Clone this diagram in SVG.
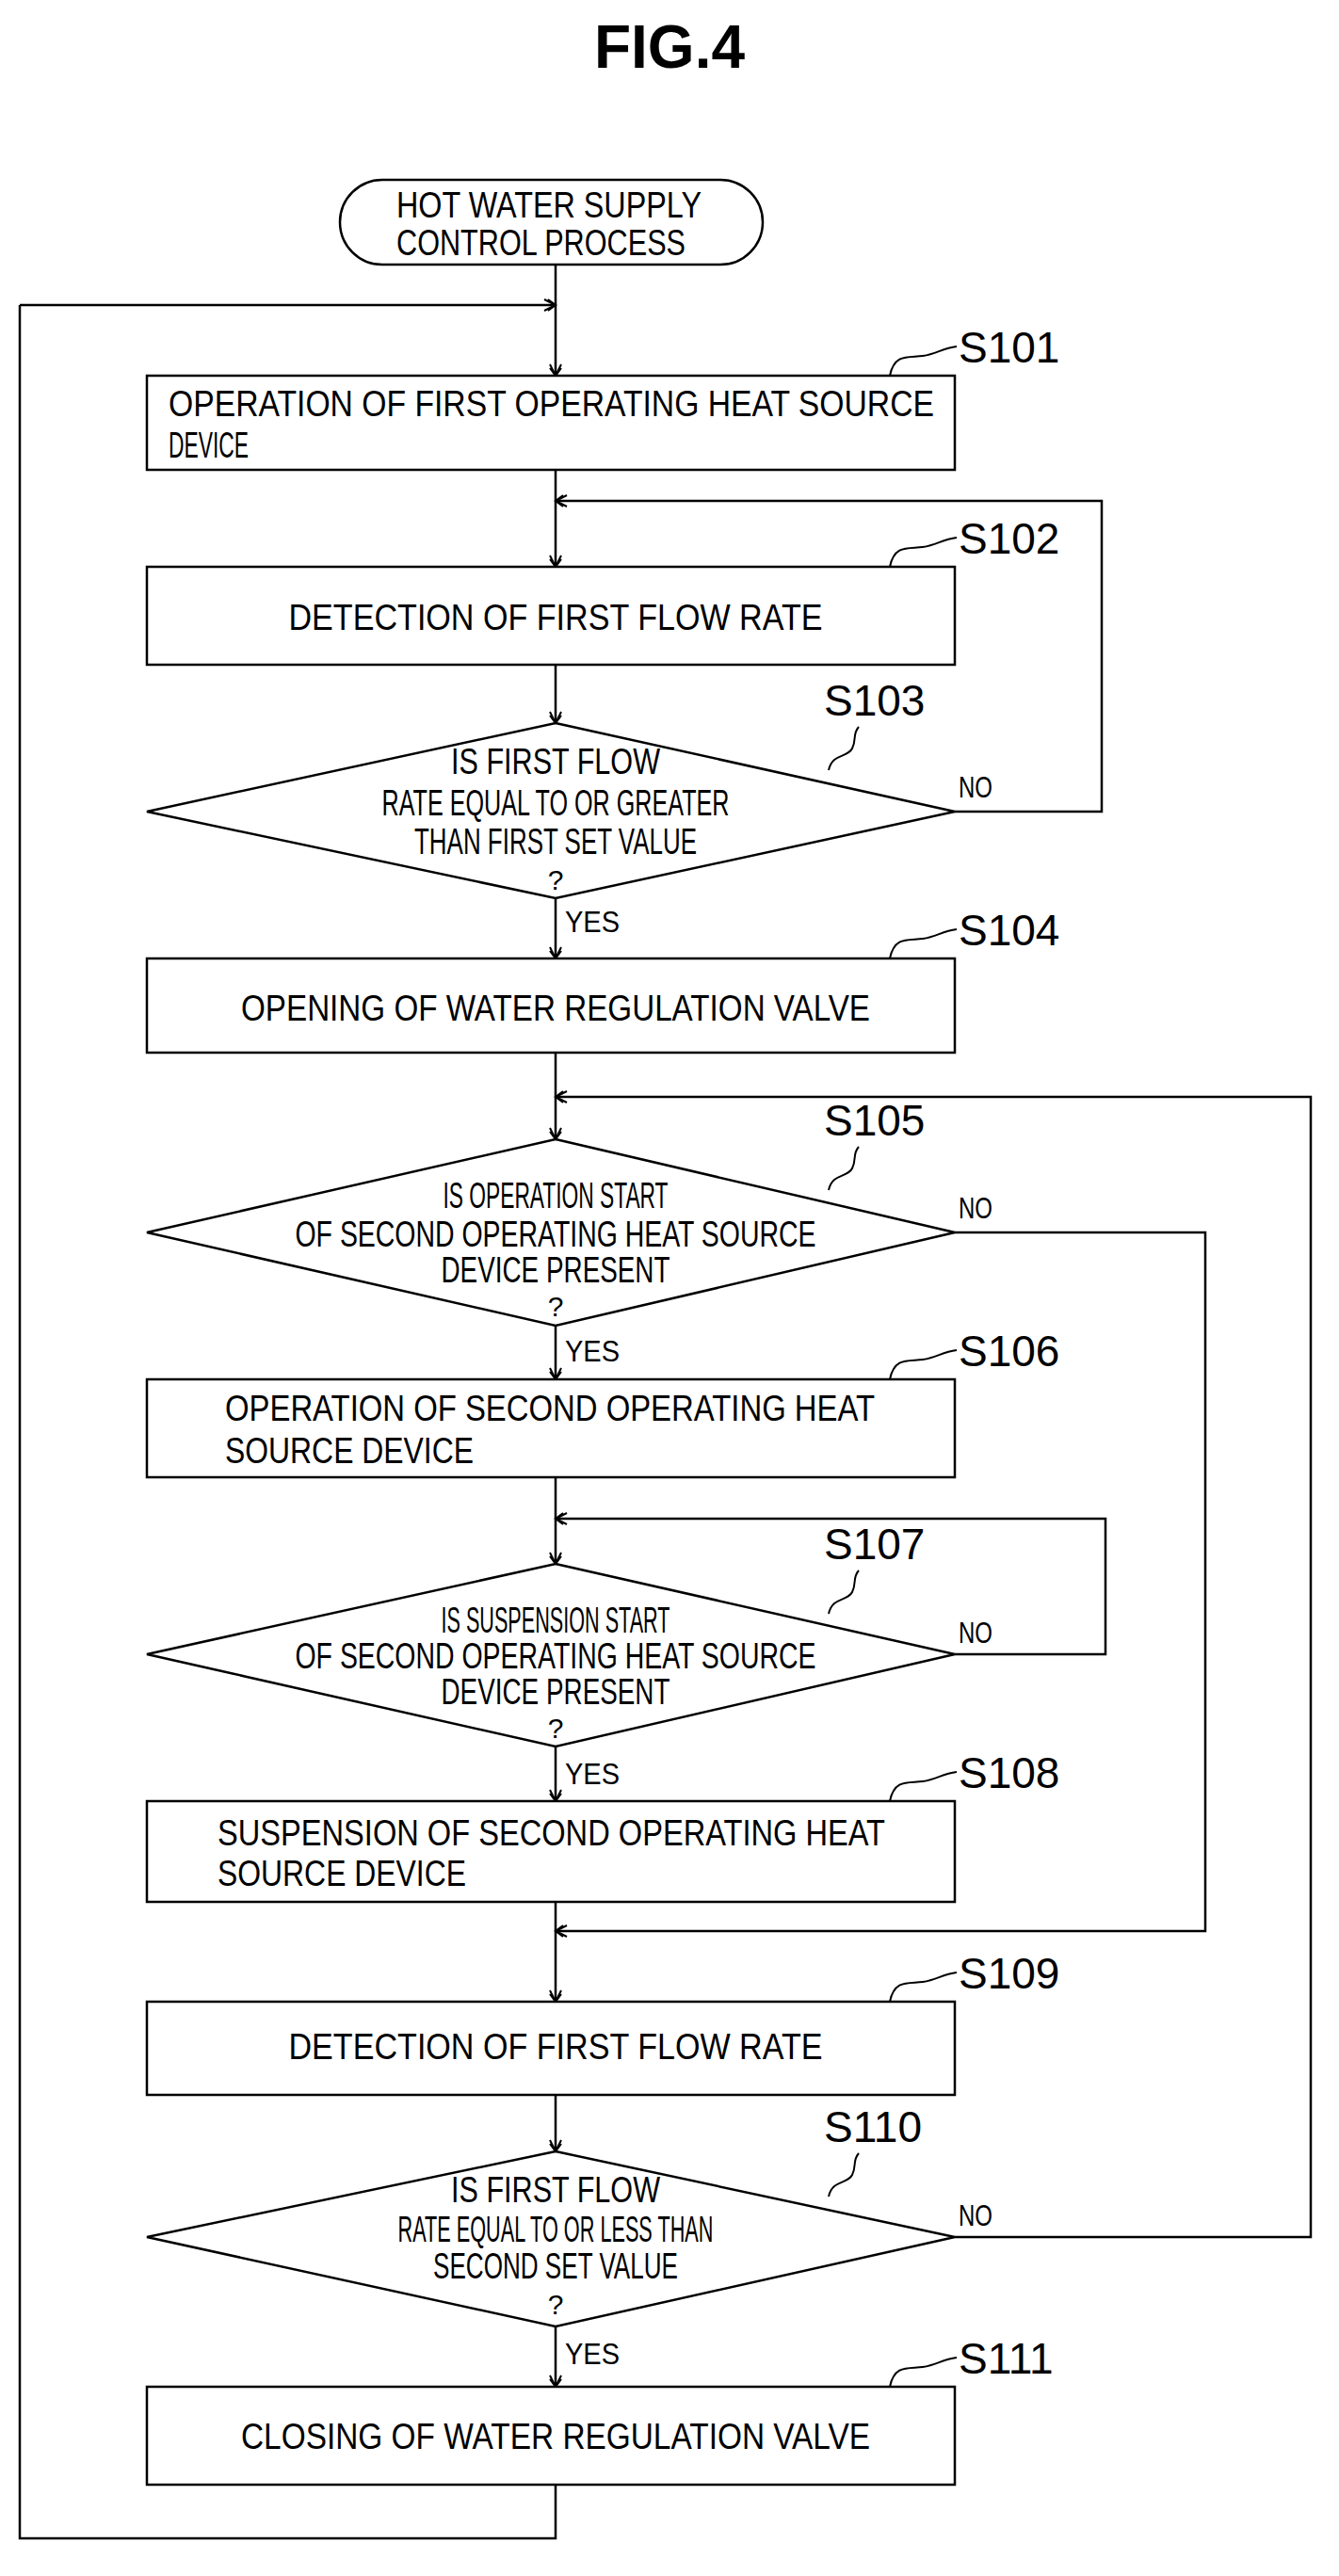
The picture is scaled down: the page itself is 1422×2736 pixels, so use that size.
<svg xmlns="http://www.w3.org/2000/svg" width="1422" height="2736" viewBox="0 0 1422 2736">
<style>
.n{fill:#fff;stroke:#000;stroke-width:2.5}
.t{font-family:"Liberation Sans",Arial,sans-serif;font-size:39px;fill:#000}
.q{font-family:"Liberation Sans",Arial,sans-serif;font-size:30px;fill:#000;text-anchor:middle}
.c{text-anchor:middle}
.lb{font-family:"Liberation Sans",Arial,sans-serif;font-size:46px;fill:#000}
.yn{font-family:"Liberation Sans",Arial,sans-serif;font-size:32px;fill:#000}
.e{fill:none;stroke:#000;stroke-width:2.5}
.s{fill:none;stroke:#000;stroke-width:2}
</style>
<defs>
<marker id="a" markerWidth="16" markerHeight="16" refX="14" refY="8" orient="auto" markerUnits="userSpaceOnUse">
<path d="M2,2 L14,8 L2,14 M6,2 L14,8 L6,14" fill="none" stroke="#000" stroke-width="2"/>
</marker>
</defs>
<text x="711" y="72" text-anchor="middle" style="font-family:'Liberation Sans',Arial,sans-serif;font-size:64px;font-weight:bold">FIG.4</text>

<g id="connectors">
<path class="e" d="M590,281 V399" marker-end="url(#a)"/>
<path class="e" d="M21,324 H590" marker-end="url(#a)"/>
<path class="e" d="M590,499 V602" marker-end="url(#a)"/>
<path class="e" d="M1014,862 H1170 V532 H590" marker-end="url(#a)"/>
<path class="e" d="M590,706 V768" marker-end="url(#a)"/>
<path class="e" d="M590,954 V1018" marker-end="url(#a)"/>
<path class="e" d="M590,1118 V1210" marker-end="url(#a)"/>
<path class="e" d="M1014,2376 H1392 V1165 H590" marker-end="url(#a)"/>
<path class="e" d="M590,1408 V1465" marker-end="url(#a)"/>
<path class="e" d="M1014,1309 H1280 V2051 H590" marker-end="url(#a)"/>
<path class="e" d="M590,1569 V1661" marker-end="url(#a)"/>
<path class="e" d="M1014,1757 H1174 V1613 H590" marker-end="url(#a)"/>
<path class="e" d="M590,1855 V1913" marker-end="url(#a)"/>
<path class="e" d="M590,2020 V2126" marker-end="url(#a)"/>
<path class="e" d="M590,2225 V2285" marker-end="url(#a)"/>
<path class="e" d="M590,2471 V2535" marker-end="url(#a)"/>
<path class="e" d="M590,2639 V2696 H21 V324"/>
<text class="yn" x="1018" y="847" textLength="36" lengthAdjust="spacingAndGlyphs">NO</text>
<text class="yn" x="1018" y="1294" textLength="36" lengthAdjust="spacingAndGlyphs">NO</text>
<text class="yn" x="1018" y="1745" textLength="36" lengthAdjust="spacingAndGlyphs">NO</text>
<text class="yn" x="1018" y="2364" textLength="36" lengthAdjust="spacingAndGlyphs">NO</text>
<text class="yn" x="600" y="990" textLength="58" lengthAdjust="spacingAndGlyphs">YES</text>
<text class="yn" x="600" y="1446" textLength="58" lengthAdjust="spacingAndGlyphs">YES</text>
<text class="yn" x="600" y="1895" textLength="58" lengthAdjust="spacingAndGlyphs">YES</text>
<text class="yn" x="600" y="2511" textLength="58" lengthAdjust="spacingAndGlyphs">YES</text>
</g>

<g id="start">
<rect class="n" x="361" y="191" width="449" height="90" rx="45"/>
<text class="t" x="421" y="231" textLength="324" lengthAdjust="spacingAndGlyphs">HOT WATER SUPPLY</text>
<text class="t" x="421" y="271" textLength="307" lengthAdjust="spacingAndGlyphs">CONTROL PROCESS</text>
</g>

<g id="S101">
<rect class="n" x="156" y="399" width="858" height="100"/>
<text class="t" x="179" y="442" textLength="813" lengthAdjust="spacingAndGlyphs">OPERATION OF FIRST OPERATING HEAT SOURCE</text>
<text class="t" x="179" y="486" textLength="85" lengthAdjust="spacingAndGlyphs">DEVICE</text>
<path class="s" d="M945,399 C950,375 965,380 980,378 C995,376 1000,370 1016,368"/>
<text class="lb" x="1018" y="385">S101</text>
</g>

<g id="S102">
<rect class="n" x="156" y="602" width="858" height="104"/>
<text class="t c" x="590" y="669" textLength="567" lengthAdjust="spacingAndGlyphs">DETECTION OF FIRST FLOW RATE</text>
<path class="s" d="M945,602 C950,578 965,583 980,581 C995,579 1000,573 1016,571"/>
<text class="lb" x="1018" y="588">S102</text>
</g>

<g id="S103">
<polygon class="n" points="590,768 1014,862 590,954 156,862"/>
<text class="t c" x="590" y="822" textLength="222" lengthAdjust="spacingAndGlyphs">IS FIRST FLOW</text>
<text class="t c" x="590" y="866" textLength="369" lengthAdjust="spacingAndGlyphs">RATE EQUAL TO OR GREATER</text>
<text class="t c" x="590" y="907" textLength="300" lengthAdjust="spacingAndGlyphs">THAN FIRST SET VALUE</text>
<text class="q" x="590" y="945">?</text>
<path class="s" d="M880,818 C884,800 900,805 905,795 C910,785 905,780 912,772"/>
<text class="lb" x="875" y="760">S103</text>
</g>

<g id="S104">
<rect class="n" x="156" y="1018" width="858" height="100"/>
<text class="t c" x="590" y="1084" textLength="668" lengthAdjust="spacingAndGlyphs">OPENING OF WATER REGULATION VALVE</text>
<path class="s" d="M945,1018 C950,994 965,999 980,997 C995,995 1000,989 1016,987"/>
<text class="lb" x="1018" y="1004">S104</text>
</g>

<g id="S105">
<polygon class="n" points="590,1210 1014,1309 590,1408 156,1309"/>
<text class="t c" x="590" y="1283" textLength="239" lengthAdjust="spacingAndGlyphs">IS OPERATION START</text>
<text class="t c" x="590" y="1324" textLength="553" lengthAdjust="spacingAndGlyphs">OF SECOND OPERATING HEAT SOURCE</text>
<text class="t c" x="590" y="1362" textLength="243" lengthAdjust="spacingAndGlyphs">DEVICE PRESENT</text>
<text class="q" x="590" y="1398">?</text>
<path class="s" d="M880,1264 C884,1246 900,1251 905,1241 C910,1231 905,1226 912,1218"/>
<text class="lb" x="875" y="1206">S105</text>
</g>

<g id="S106">
<rect class="n" x="156" y="1465" width="858" height="104"/>
<text class="t" x="239" y="1509" textLength="690" lengthAdjust="spacingAndGlyphs">OPERATION OF SECOND OPERATING HEAT</text>
<text class="t" x="239" y="1554" textLength="264" lengthAdjust="spacingAndGlyphs">SOURCE DEVICE</text>
<path class="s" d="M945,1465 C950,1441 965,1446 980,1444 C995,1442 1000,1436 1016,1434"/>
<text class="lb" x="1018" y="1451">S106</text>
</g>

<g id="S107">
<polygon class="n" points="590,1661 1014,1757 590,1855 156,1757"/>
<text class="t c" x="590" y="1734" textLength="243" lengthAdjust="spacingAndGlyphs">IS SUSPENSION START</text>
<text class="t c" x="590" y="1772" textLength="553" lengthAdjust="spacingAndGlyphs">OF SECOND OPERATING HEAT SOURCE</text>
<text class="t c" x="590" y="1810" textLength="243" lengthAdjust="spacingAndGlyphs">DEVICE PRESENT</text>
<text class="q" x="590" y="1846">?</text>
<path class="s" d="M880,1714 C884,1696 900,1701 905,1691 C910,1681 905,1676 912,1668"/>
<text class="lb" x="875" y="1656">S107</text>
</g>

<g id="S108">
<rect class="n" x="156" y="1913" width="858" height="107"/>
<text class="t" x="231" y="1960" textLength="709" lengthAdjust="spacingAndGlyphs">SUSPENSION OF SECOND OPERATING HEAT</text>
<text class="t" x="231" y="2003" textLength="264" lengthAdjust="spacingAndGlyphs">SOURCE DEVICE</text>
<path class="s" d="M945,1913 C950,1889 965,1894 980,1892 C995,1890 1000,1884 1016,1882"/>
<text class="lb" x="1018" y="1899">S108</text>
</g>

<g id="S109">
<rect class="n" x="156" y="2126" width="858" height="99"/>
<text class="t c" x="590" y="2187" textLength="567" lengthAdjust="spacingAndGlyphs">DETECTION OF FIRST FLOW RATE</text>
<path class="s" d="M945,2126 C950,2102 965,2107 980,2105 C995,2103 1000,2097 1016,2095"/>
<text class="lb" x="1018" y="2112">S109</text>
</g>

<g id="S110">
<polygon class="n" points="590,2285 1014,2376 590,2471 156,2376"/>
<text class="t c" x="590" y="2339" textLength="222" lengthAdjust="spacingAndGlyphs">IS FIRST FLOW</text>
<text class="t c" x="590" y="2381" textLength="335" lengthAdjust="spacingAndGlyphs">RATE EQUAL TO OR LESS THAN</text>
<text class="t c" x="590" y="2420" textLength="260" lengthAdjust="spacingAndGlyphs">SECOND SET VALUE</text>
<text class="q" x="590" y="2458">?</text>
<path class="s" d="M880,2333 C884,2315 900,2320 905,2310 C910,2300 905,2295 912,2287"/>
<text class="lb" x="875" y="2275">S110</text>
</g>

<g id="S111">
<rect class="n" x="156" y="2535" width="858" height="104"/>
<text class="t c" x="590" y="2601" textLength="668" lengthAdjust="spacingAndGlyphs">CLOSING OF WATER REGULATION VALVE</text>
<path class="s" d="M945,2535 C950,2511 965,2516 980,2514 C995,2512 1000,2506 1016,2504"/>
<text class="lb" x="1018" y="2521">S111</text>
</g>
</svg>
